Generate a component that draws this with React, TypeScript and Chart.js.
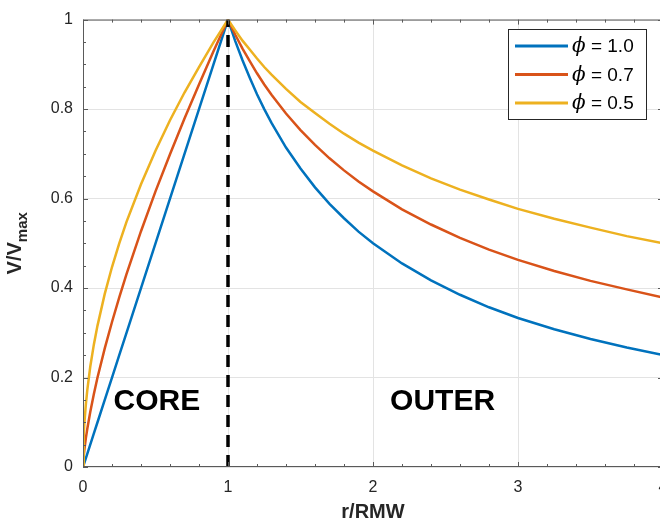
import React, { useEffect, useRef } from "react";
import { Chart, registerables } from "chart.js";

Chart.register(...registerables);

// r / RMW sample points
const radius = [0, 0.005, 0.01, 0.02, 0.03, 0.05, 0.075, 0.1, 0.15, 0.2, 0.25, 0.3, 0.4, 0.5, 0.6, 0.7, 0.8, 0.9, 1.0, 1.05, 1.1, 1.15, 1.2, 1.25, 1.3, 1.4, 1.5, 1.6, 1.7, 1.8, 1.9, 2.0, 2.2, 2.4, 2.6, 2.8, 3.0, 3.25, 3.5, 3.75, 4.0];
// V / Vmax for each phi
const phi10 = [0, 0.005, 0.01, 0.02, 0.03, 0.05, 0.075, 0.1, 0.15, 0.2, 0.25, 0.3, 0.4, 0.5, 0.6, 0.7, 0.8, 0.9, 1.0, 0.952, 0.909, 0.87, 0.833, 0.8, 0.769, 0.714, 0.667, 0.625, 0.588, 0.556, 0.526, 0.5, 0.455, 0.417, 0.385, 0.357, 0.333, 0.308, 0.286, 0.267, 0.25];
const phi07 = [0, 0.025, 0.04, 0.065, 0.086, 0.123, 0.163, 0.2, 0.265, 0.324, 0.379, 0.431, 0.527, 0.616, 0.699, 0.779, 0.855, 0.929, 1.0, 0.966, 0.935, 0.907, 0.88, 0.855, 0.832, 0.79, 0.753, 0.72, 0.69, 0.663, 0.638, 0.616, 0.576, 0.542, 0.512, 0.486, 0.463, 0.438, 0.416, 0.397, 0.379];
const phi05 = [0, 0.071, 0.1, 0.141, 0.173, 0.224, 0.274, 0.316, 0.387, 0.447, 0.5, 0.548, 0.632, 0.707, 0.775, 0.837, 0.894, 0.949, 1.0, 0.976, 0.953, 0.933, 0.913, 0.894, 0.877, 0.845, 0.816, 0.791, 0.767, 0.745, 0.725, 0.707, 0.674, 0.645, 0.62, 0.598, 0.577, 0.555, 0.535, 0.516, 0.5];
// RMW divider
const dividerX = [1, 1];
const dividerY = [0, 1];

const seriesLabels = ["ϕ = 1.0", "ϕ = 0.7", "ϕ = 0.5"];
const seriesColors = ["#0072BD", "#D95319", "#EDB120"];
const regionLabels = ["CORE", "OUTER"];

const xTicks = [0, 1, 2, 3, 4];
const yTicks = [0, 0.2, 0.4, 0.6, 0.8, 1];

const SANS = '"Liberation Sans", Arial, Helvetica, sans-serif';
const AXIS_COLOR = "#262626";

const toPts = (xs: number[], ys: number[]) => xs.map((x, i) => ({ x, y: ys[i] }));

const overlay = {
  id: "overlay",
  afterDatasetsDraw(chart: any) {
    const { ctx, chartArea: a, scales } = chart;
    const xs = scales.x;
    const ys = scales.y;
    ctx.save();

    // axes box
    ctx.strokeStyle = "#5a5a5a";
    ctx.lineWidth = 1;
    ctx.strokeRect(a.left + 0.5, a.top + 0.5, a.right - a.left - 1, a.bottom - a.top - 1);

    // inward ticks (major + minor) on all four sides
    ctx.beginPath();
    for (let i = 0; i <= 20; i++) {
      const v = i * 0.2;
      const len = i % 5 === 0 ? 5 : 3;
      const px = Math.round(xs.getPixelForValue(v)) + 0.5;
      ctx.moveTo(px, a.bottom);
      ctx.lineTo(px, a.bottom - len);
      ctx.moveTo(px, a.top);
      ctx.lineTo(px, a.top + len);
    }
    for (let i = 0; i <= 20; i++) {
      const v = i * 0.05;
      const len = i % 4 === 0 ? 5 : 3;
      const py = Math.round(ys.getPixelForValue(v)) + 0.5;
      ctx.moveTo(a.left, py);
      ctx.lineTo(a.left + len, py);
      ctx.moveTo(a.right, py);
      ctx.lineTo(a.right - len, py);
    }
    ctx.stroke();

    // region labels
    ctx.fillStyle = "#000";
    ctx.font = `bold 30px ${SANS}`;
    ctx.textAlign = "center";
    ctx.textBaseline = "middle";
    ctx.fillText(regionLabels[0], xs.getPixelForValue(0.51), ys.getPixelForValue(0.145));
    ctx.fillText(regionLabels[1], xs.getPixelForValue(2.48), ys.getPixelForValue(0.145));

    // x title
    ctx.fillStyle = AXIS_COLOR;
    ctx.font = `bold 20px ${SANS}`;
    ctx.fillText("r/RMW", (a.left + xs.getPixelForValue(4)) / 2, 512);

    // y title with subscript
    ctx.save();
    ctx.translate(21, (a.top + a.bottom) / 2);
    ctx.rotate(-Math.PI / 2);
    ctx.textBaseline = "alphabetic";
    ctx.textAlign = "left";
    const main = "V/V";
    const sub = "max";
    ctx.font = `bold 20px ${SANS}`;
    const wMain = ctx.measureText(main).width;
    ctx.font = `bold 15px ${SANS}`;
    const wSub = ctx.measureText(sub).width;
    const start = -(wMain + wSub) / 2;
    ctx.font = `bold 20px ${SANS}`;
    ctx.fillText(main, start, 0);
    ctx.font = `bold 15px ${SANS}`;
    ctx.fillText(sub, start + wMain, 6);
    ctx.restore();

    // legend
    const lx = 508.5, ly = 29.5, lw = 138, lh = 90;
    ctx.fillStyle = "#fff";
    ctx.fillRect(lx, ly, lw, lh);
    ctx.strokeStyle = AXIS_COLOR;
    ctx.lineWidth = 1;
    ctx.strokeRect(lx, ly, lw, lh);
    seriesLabels.forEach((lab, i) => {
      const cy = 46 + i * 28.5;
      ctx.strokeStyle = seriesColors[i];
      ctx.lineWidth = 3;
      ctx.beginPath();
      ctx.moveTo(515, cy);
      ctx.lineTo(568, cy);
      ctx.stroke();
      ctx.fillStyle = "#000";
      ctx.textAlign = "left";
      ctx.textBaseline = "middle";
      ctx.font = `italic 20px "DejaVu Serif", "Liberation Serif", serif`;
      const phi = lab.charAt(0);
      ctx.fillText(phi, 572, cy + 1);
      const wp = ctx.measureText(phi).width;
      ctx.font = `19px ${SANS}`;
      ctx.fillText(lab.slice(1), 572 + wp, cy + 1);
    });

    ctx.restore();
  },
};

export default function App() {
  const ref = useRef<HTMLCanvasElement | null>(null);
  useEffect(() => {
    if (!ref.current) return;
    const chart = new Chart(ref.current, {
      type: "line",
      data: {
        datasets: [
          {
            label: "divider",
            data: toPts(dividerX, dividerY),
            borderColor: "#000",
            borderWidth: 3.5,
            borderDash: [12, 8],
            pointRadius: 0,
            order: 0,
          },
          {
            label: seriesLabels[2],
            data: toPts(radius, phi05),
            borderColor: seriesColors[2],
            borderWidth: 2.5,
            pointRadius: 0,
            order: 1,
          },
          {
            label: seriesLabels[1],
            data: toPts(radius, phi07),
            borderColor: seriesColors[1],
            borderWidth: 2.5,
            pointRadius: 0,
            order: 2,
          },
          {
            label: seriesLabels[0],
            data: toPts(radius, phi10),
            borderColor: seriesColors[0],
            borderWidth: 2.5,
            pointRadius: 0,
            order: 3,
          },
        ],
      },
      options: {
        animation: false,
        responsive: true,
        maintainAspectRatio: false,
        layout: { padding: { left: 0, right: 17, top: 13, bottom: 0 } },
        plugins: { legend: { display: false }, tooltip: { enabled: false } },
        scales: {
          x: {
            type: "linear",
            min: 0,
            max: 4,
            afterFit: (s: any) => { s.height = 59; },
            afterBuildTicks: (s: any) => { s.ticks = xTicks.map((v) => ({ value: v })); },
            ticks: { color: AXIS_COLOR, font: { size: 16, family: SANS }, padding: 11, maxRotation: 0, callback: (v: any) => String(Number(v)) },
            grid: { color: "#e3e3e3", drawTicks: false },
            border: { display: false },
          },
          y: {
            type: "linear",
            min: 0,
            max: 1,
            afterFit: (s: any) => { s.width = 83; },
            afterBuildTicks: (s: any) => { s.ticks = yTicks.map((v) => ({ value: v })); },
            ticks: { color: AXIS_COLOR, font: { size: 16, family: SANS }, padding: 10, callback: (v: any) => String(Number(v)) },
            grid: { color: "#e3e3e3", drawTicks: false },
            border: { display: false },
          },
        },
      },
      plugins: [overlay],
    });
    return () => chart.destroy();
  }, []);
  return (
    <div style={{ position: "fixed", left: 0, top: 0, width: 660, height: 526, overflow: "hidden", background: "#fff" }}>
      <div style={{ position: "relative", width: 680, height: 526 }}>
        <canvas ref={ref} />
      </div>
    </div>
  );
}
